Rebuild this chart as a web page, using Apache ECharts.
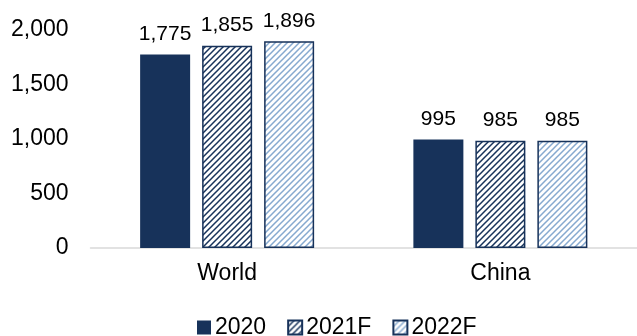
<!DOCTYPE html>
<html lang="en">
    <head>
        <meta charset="UTF-8">
        <title>ECharts</title>
        <style type="text/css">
            body {margin: 0px; background-color: #ffffff;}
        </style>
        <script src="https://cdn.jsdelivr.net/npm/echarts@6/dist/echarts.min.js"></script>
    </head>
    <body>
        <div id="main" style="height: 336px;width: 637px;"></div>
        <script type="text/javascript">
            var categories = ['World', 'China'];
            var seriesNames = ['2020', '2021F', '2022F'];
            var values2020 = [1775, 995];
            var values2021F = [1855, 985];
            var values2022F = [1896, 985];
            var yTicks = [0, 500, 1000, 1500, 2000];

            var navy = '#17325a';

            function fmt(v) {
                return String(v).replace(/\B(?=(\d{3})+(?!\d))/g, ',');
            }

            // diagonal hatch tile
            function hatch(lineColor) {
                var c = document.createElement('canvas');
                c.width = 6;
                c.height = 6;
                var ctx = c.getContext('2d');
                ctx.fillStyle = '#ffffff';
                ctx.fillRect(0, 0, 6, 6);
                ctx.strokeStyle = lineColor;
                ctx.lineWidth = 1.5;
                ctx.beginPath();
                ctx.moveTo(-1, 7); ctx.lineTo(7, -1);
                ctx.moveTo(-1, 1); ctx.lineTo(1, -1);
                ctx.moveTo(5, 7); ctx.lineTo(7, 5);
                ctx.stroke();
                return {image: c, repeat: 'repeat'};
            }

            var labelOpt = {
                show: true,
                position: 'top',
                distance: 10,
                color: '#000000',
                fontSize: 21,
                fontFamily: 'Liberation Sans',
                formatter: function (p) { return fmt(p.value); }
            };

            var myChart = echarts.init(document.getElementById('main'));
            var option = {
                animation: false,
                textStyle: {fontFamily: 'Liberation Sans'},
                grid: {left: 90.5, top: 30, width: 554, height: 218, containLabel: false},
                legend: {
                    top: 311,
                    left: 192,
                    itemWidth: 14,
                    itemHeight: 14,
                    itemGap: 21,
                    icon: 'rect',
                    textStyle: {fontSize: 23, color: '#000000', padding: [0, 0, 0, -1]},
                    data: seriesNames
                },
                xAxis: {
                    type: 'category',
                    data: categories,
                    axisTick: {show: false},
                    axisLine: {lineStyle: {color: '#d9d9d9', width: 1.5}},
                    axisLabel: {fontSize: 23, color: '#000000', margin: 14}
                },
                yAxis: {
                    type: 'value',
                    min: yTicks[0],
                    max: yTicks[yTicks.length - 1],
                    interval: 500,
                    splitLine: {show: false},
                    axisLine: {show: false},
                    axisTick: {show: false},
                    axisLabel: {fontSize: 23, color: '#000000', margin: 22,
                        formatter: function (v) { return fmt(v); }}
                },
                series: [
                    {
                        name: seriesNames[0], type: 'bar', data: values2020,
                        barWidth: 50, barGap: '24%',
                        itemStyle: {color: navy},
                        label: labelOpt
                    },
                    {
                        name: seriesNames[1], type: 'bar', data: values2021F,
                        barWidth: 50, barGap: '24%',
                        itemStyle: {color: hatch(navy), borderColor: navy, borderWidth: 1.5},
                        label: labelOpt
                    },
                    {
                        name: seriesNames[2], type: 'bar', data: values2022F,
                        barWidth: 50, barGap: '24%',
                        itemStyle: {color: hatch('#86a9cf'), borderColor: navy, borderWidth: 1.5},
                        label: labelOpt
                    }
                ]
            };
            myChart.setOption(option);
        </script>
    </body>
</html>
